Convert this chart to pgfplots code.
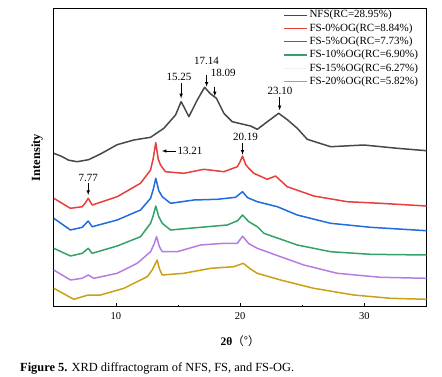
\documentclass[border=0pt]{standalone}
\usepackage{pgfplots}
\pgfplotsset{compat=1.18}
\usepackage{fontspec}
\setmainfont{Liberation Serif}
\newfontfamily\cjk{Noto Sans CJK SC}
\definecolor{cnfs}{RGB}{72,72,72}
\definecolor{cred}{RGB}{232,62,60}
\definecolor{cblue}{RGB}{30,108,222}
\definecolor{cgreen}{RGB}{52,162,104}
\definecolor{cpurple}{RGB}{182,124,226}
\definecolor{cgold}{RGB}{204,160,20}
\begin{document}
\begin{tikzpicture}[x=1pt,y=1pt]
\useasboundingbox (0,0) rectangle (442,376);
\begin{axis}[
  at={(43.3,69.3)}, anchor=south west,
  width=372.7pt, height=298.4pt, scale only axis,
  xmin=5, xmax=35, ymin=0, ymax=298.4,
  xtick={10,20,30}, minor xtick={15,25},
  ytick=\empty,
  tick pos=bottom,
  tick align=inside,
  major tick length=4pt, minor tick length=2pt,
  axis line style={line width=0.8pt},
  every tick/.style={black, line width=0.7pt},
  /pgf/number format/assume math mode=true,
  ticklabel style={font=\fontsize{10.5}{12}\selectfont},
  xticklabel style={yshift=-2pt},
  xlabel={\bfseries 2θ{\cjk\mdseries （°）}},
  xlabel style={at={(axis description cs:0.5,-0.117)}, anchor=center, font=\fontsize{11.5}{13}\selectfont},
  ylabel={\bfseries Intensity},
  ylabel style={at={(axis description cs:-0.0445,0.5)}, anchor=center, font=\fontsize{12.5}{14}\selectfont},
  clip=false,
  legend style={draw=none, fill=none, at={(rel axis cs:0.99,1.006)}, anchor=north east,
    font=\fontsize{11}{12}\selectfont, row sep=0.3pt,
    nodes={inner sep=1.5pt, text height=7.6pt, text depth=2.4pt}},
  legend cell align=left,
  legend image code/.code={\draw[#1, line width=1.3pt] (0pt,0pt) -- (23pt,0pt);},
  every axis plot/.append style={line width=1.5pt, line join=round},
]
% NFS
\addplot[cnfs] coordinates {
(5.00,153.4) (5.6,150.5) (6.2,146.5) (6.88,145.0) (7.8,147) (8.8,153) (10.10,162) (11.44,166.7)
(12.79,169.4) (13.86,178.4) (14.80,191.7) (15.25,205.0) (15.55,198) (15.87,190.0)
(16.55,206.7) (17.14,219.4) (17.6,213) (18.09,208.4) (18.69,193.4) (19.36,185.0)
(20.84,180.7) (21.38,177.4) (22.3,186) (23.10,193.4) (23.8,187) (24.60,178.4) (25.40,167.4)
(27.28,160.0) (29.96,161.7) (32.65,158.4) (35.00,156.0)};
\addlegendentry{NFS(RC=28.95\%)}
% FS-0%
\addplot[cred] coordinates {
(5.00,108.4) (6.34,98.4) (7.29,100) (7.55,104) (7.77,108.4) (8.09,101.7) (10.10,110) (11.98,123.4)
(12.79,136.7) (13.0,148) (13.21,164) (13.40,148) (13.59,141.7) (13.99,135) (15.47,133.4)
(17.08,137.4) (18.69,135) (19.77,140) (20.0,145) (20.19,150.7) (20.45,142) (20.70,138.4)
(21.10,133.4) (22.18,127.4) (22.85,130.7) (23.79,120) (25.93,110.7) (28.62,105)
(31.30,103.4) (35.00,100.7)};
\addlegendentry{FS-0\%OG(RC=8.84\%)}
% FS-5%
\addplot[cblue] coordinates {
(5.00,88.4) (6.34,76.7) (7.29,79.4) (7.77,85.7) (8.09,80) (10.10,86.7) (11.98,96.7)
(12.79,108.4) (13.0,117) (13.21,128.4) (13.45,116) (13.73,110) (14.40,103.4) (16.27,106.7)
(18.16,107.4) (19.63,109.4) (20.19,115) (20.6,109) (21.38,105) (22.99,100) (24.60,91.7)
(27.28,83.4) (30.50,79.4) (35.00,76)};
\addlegendentry{FS-5\%OG(RC=7.73\%)}
% FS-10%
\addplot[cgreen] coordinates {
(5.00,58.4) (6.34,50.7) (7.29,53.4) (7.77,58.4) (8.09,53.4) (10.10,60.7) (11.98,70)
(12.79,83.4) (13.0,91) (13.21,100.7) (13.45,90) (13.73,83.4) (14.40,76.7) (16.81,79.4)
(18.96,81.7) (19.8,86) (20.19,91.7) (20.7,85) (21.38,80) (21.91,73.4) (24.60,61.7)
(27.28,55) (30.50,52.4) (35.00,51.7)};
\addlegendentry{FS-10\%OG(RC=6.90\%)}
% FS-15%
\addplot[cpurple, forget plot] coordinates {
(5.00,36.7) (6.34,26.7) (7.29,28.4) (7.77,31.7) (8.22,28.4) (10.10,33.4) (11.71,43.4)
(12.79,55) (13.05,62) (13.27,70) (13.5,60) (13.73,55) (14.94,55) (16.81,61.7) (18.69,63.4)
(19.77,63.4) (20.2,70.5) (20.7,63) (21.38,58.4) (23.25,50) (25.13,41.7) (27.82,33.4)
(31.30,29.4) (35.00,28.4)};
\addlegendimage{black!6}
\addlegendentry{FS-15\%OG(RC=6.27\%)}
% FS-20%
\addplot[cgold] coordinates {
(5.00,18.4) (6.61,7.4) (7.77,11.7) (8.76,11.7) (10.64,18.4) (12.52,30) (12.92,36.7)
(13.32,46.7) (13.5,38) (13.73,31.7) (15.47,33.4) (17.62,38.4) (19.49,40) (20.25,43.4)
(20.8,38) (21.38,33.4) (23.25,26.7) (25.93,18.4) (29.15,11.7) (32.11,8.4) (35.00,7.4)};
\addlegendentry{FS-20\%OG(RC=5.82\%)}
% annotations
\begin{scope}[font=\fontsize{11}{12}\selectfont]
\node at (axis cs:7.77,129) {7.77};
\draw[-latex, line width=0.6pt] (axis cs:7.77,123.4) -- (axis cs:7.77,111.7);
\node[anchor=west, inner sep=0pt] at (axis cs:14.95,155.7) {13.21};
\draw[-latex, line width=0.6pt] (axis cs:14.85,155.7) -- (axis cs:13.70,155.7);
\node at (axis cs:20.43,169.4) {20.19};
\draw[-latex, line width=0.6pt] (axis cs:20.19,164) -- (axis cs:20.19,152);
\node at (axis cs:15.07,229.4) {15.25};
\draw[-latex, line width=0.6pt] (axis cs:15.25,223.4) -- (axis cs:15.25,208.4);
\node at (axis cs:17.29,246) {17.14};
\draw[-latex, line width=0.6pt] (axis cs:17.3,232) -- (axis cs:17.3,220);
\node at (axis cs:18.64,233.4) {18.09};
\draw[-latex, line width=0.6pt] (axis cs:17.96,220) -- (axis cs:17.96,210.5);
\node at (axis cs:23.20,215.7) {23.10};
\draw[-latex, line width=0.6pt] (axis cs:23.18,210) -- (axis cs:23.18,196.5);
\end{scope}
\end{axis}
\node[anchor=base west, inner sep=0pt, font=\fontsize{12.4}{14}\selectfont] at (20,5) {\textbf{Figure 5.} XRD diffractogram of NFS, FS, and FS-OG.};
\end{tikzpicture}
\end{document}
